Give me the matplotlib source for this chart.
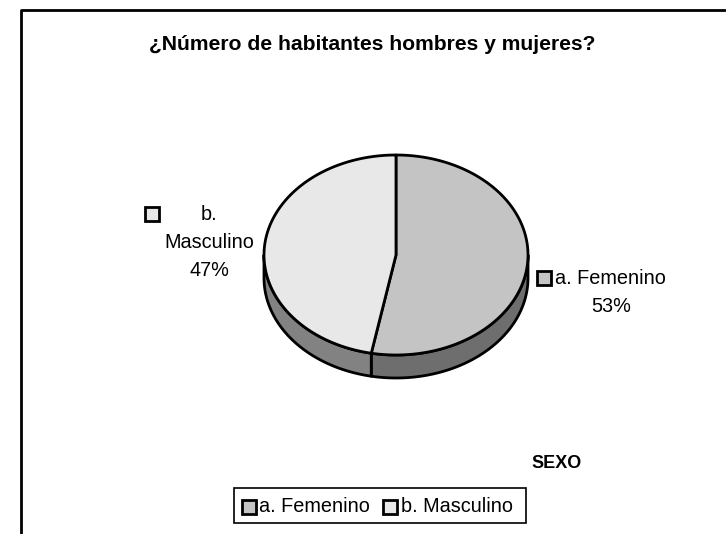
import numpy as np
import matplotlib.pyplot as plt
from matplotlib.patches import Polygon, Rectangle

plt.rcParams["font.family"] = "Liberation Sans"

title = "¿Número de habitantes hombres y mujeres?"
categories = ["a. Femenino", "b. Masculino"]
shares = [53, 47]
top_colors = ["#c4c4c4", "#e8e8e8"]
side_colors = ["#6e6e6e", "#828282"]
legend_title = "SEXO"

# pie geometry in pixel units
cx, cy, rx, ry, depth = 396, 255, 132, 100, 23


def rim(t):
    return cx + rx * np.sin(t), cy - ry * np.cos(t)


fig = plt.figure(figsize=(7.26, 5.34), dpi=100)
ax = fig.add_axes([0, 0, 1, 1])
ax.set_xlim(0, 726)
ax.set_ylim(534, 0)
ax.axis("off")

# chart frame (right and bottom edges fall outside the crop)
ax.plot([21, 21, 726], [534, 10, 10], color="black", lw=2, solid_capstyle="butt")

fracs = np.array(shares) / np.sum(shares)
edges = np.concatenate([[0], np.cumsum(fracs)]) * 2 * np.pi

# side walls first
for i in range(len(shares)):
    a0 = max(edges[i], np.pi / 2)
    a1 = min(edges[i + 1], 3 * np.pi / 2)
    if a1 <= a0:
        continue
    t = np.linspace(a0, a1, 100)
    x, y = rim(t)
    pts = np.column_stack([np.concatenate([x, x[::-1]]),
                           np.concatenate([y, y[::-1] + depth])])
    ax.add_patch(Polygon(pts, closed=True, fc=side_colors[i], ec="black", lw=2, joinstyle="round"))

# top faces
for i in range(len(shares)):
    t = np.linspace(edges[i], edges[i + 1], 200)
    x, y = rim(t)
    pts = np.column_stack([np.concatenate([[cx], x]), np.concatenate([[cy], y])])
    ax.add_patch(Polygon(pts, closed=True, fc=top_colors[i], ec="black", lw=2, joinstyle="round"))

ax.text(149, 45, title, fontsize=15.2, fontweight="bold", ha="left", va="center")

# data labels
lab_fs = 14.3
ax.add_patch(Rectangle((537, 271), 14, 14, fc=top_colors[0], ec="black", lw=2))
ax.text(555, 278, categories[0], fontsize=lab_fs, ha="left", va="center")
ax.text(611, 307, "%d%%" % shares[0], fontsize=lab_fs, ha="center", va="center")

ax.add_patch(Rectangle((145, 207), 14, 14, fc=top_colors[1], ec="black", lw=2))
b_prefix, b_name = categories[1].split(" ", 1)
ax.text(209, 215, b_prefix, fontsize=lab_fs, ha="center", va="center")
ax.text(209, 242, b_name, fontsize=lab_fs, ha="center", va="center")
ax.text(209, 270, "%d%%" % shares[1], fontsize=lab_fs, ha="center", va="center")

ax.text(531, 464, legend_title, fontsize=13, fontweight="bold", ha="left", va="center")

# legend box
ax.add_patch(Rectangle((234, 488), 292, 35, fc="white", ec="black", lw=1.2))
ax.add_patch(Rectangle((242, 500), 14, 14, fc=top_colors[0], ec="black", lw=2))
ax.text(259, 507, categories[0], fontsize=lab_fs, ha="left", va="center")
ax.add_patch(Rectangle((383, 500), 14, 14, fc=top_colors[1], ec="black", lw=2))
ax.text(401, 507, categories[1], fontsize=lab_fs, ha="left", va="center")

fig.savefig("out.png", dpi=100)
